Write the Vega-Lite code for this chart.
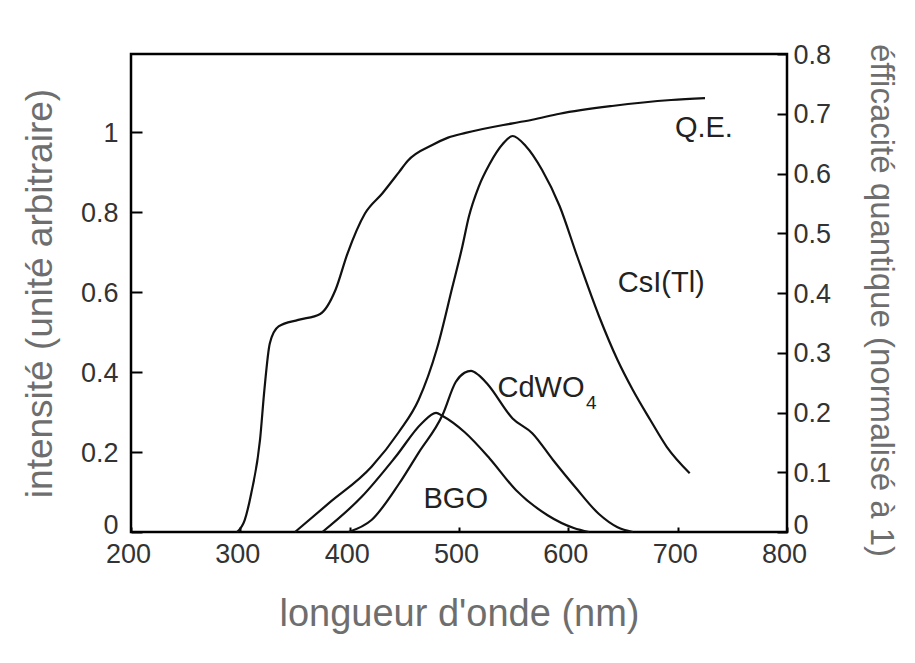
{
  "$schema": "https://vega.github.io/schema/vega-lite/v6.json",
  "width": 656,
  "height": 478,
  "autosize": {"type": "none"},
  "padding": {"left": 131, "top": 54, "right": 128, "bottom": 131},
  "background": "white",
  "config": {
    "font": "Liberation Sans",
    "view": {"stroke": "black", "strokeWidth": 2.5},
    "axis": {"grid": false, "domain": false, "tickColor": "black", "tickWidth": 2, "labelColor": "#333333", "labelFont": "Liberation Sans", "titleFont": "Liberation Sans", "titleFontWeight": "normal", "titleColor": "#6e6e6e"}
  },
  "datasets": {
    "spectra": [
      {"series": "CsI(Tl)", "nm": 350, "val": 0},
      {"series": "CsI(Tl)", "nm": 381, "val": 0.072},
      {"series": "CsI(Tl)", "nm": 420, "val": 0.163},
      {"series": "CsI(Tl)", "nm": 445, "val": 0.25},
      {"series": "CsI(Tl)", "nm": 463, "val": 0.33},
      {"series": "CsI(Tl)", "nm": 480, "val": 0.46},
      {"series": "CsI(Tl)", "nm": 494, "val": 0.613},
      {"series": "CsI(Tl)", "nm": 503, "val": 0.713},
      {"series": "CsI(Tl)", "nm": 509, "val": 0.788},
      {"series": "CsI(Tl)", "nm": 518, "val": 0.863},
      {"series": "CsI(Tl)", "nm": 528, "val": 0.92},
      {"series": "CsI(Tl)", "nm": 540, "val": 0.97},
      {"series": "CsI(Tl)", "nm": 549, "val": 0.99},
      {"series": "CsI(Tl)", "nm": 561, "val": 0.965},
      {"series": "CsI(Tl)", "nm": 576, "val": 0.905},
      {"series": "CsI(Tl)", "nm": 592, "val": 0.815},
      {"series": "CsI(Tl)", "nm": 608, "val": 0.69},
      {"series": "CsI(Tl)", "nm": 628, "val": 0.54},
      {"series": "CsI(Tl)", "nm": 645, "val": 0.43},
      {"series": "CsI(Tl)", "nm": 659, "val": 0.355},
      {"series": "CsI(Tl)", "nm": 675, "val": 0.28},
      {"series": "CsI(Tl)", "nm": 690, "val": 0.213},
      {"series": "CsI(Tl)", "nm": 711, "val": 0.147},
      {"series": "BGO", "nm": 375, "val": 0},
      {"series": "BGO", "nm": 411, "val": 0.088},
      {"series": "BGO", "nm": 442, "val": 0.188},
      {"series": "BGO", "nm": 466, "val": 0.272},
      {"series": "BGO", "nm": 479, "val": 0.298},
      {"series": "BGO", "nm": 485, "val": 0.29},
      {"series": "BGO", "nm": 505, "val": 0.25},
      {"series": "BGO", "nm": 528, "val": 0.184},
      {"series": "BGO", "nm": 552, "val": 0.105},
      {"series": "BGO", "nm": 581, "val": 0.042},
      {"series": "BGO", "nm": 605, "val": 0.01},
      {"series": "BGO", "nm": 619, "val": 0},
      {"series": "CdWO4", "nm": 399, "val": 0},
      {"series": "CdWO4", "nm": 420, "val": 0.03},
      {"series": "CdWO4", "nm": 445, "val": 0.12},
      {"series": "CdWO4", "nm": 463, "val": 0.198},
      {"series": "CdWO4", "nm": 485, "val": 0.293},
      {"series": "CdWO4", "nm": 497, "val": 0.375},
      {"series": "CdWO4", "nm": 505, "val": 0.398},
      {"series": "CdWO4", "nm": 511, "val": 0.403},
      {"series": "CdWO4", "nm": 518, "val": 0.392},
      {"series": "CdWO4", "nm": 526, "val": 0.37},
      {"series": "CdWO4", "nm": 549, "val": 0.284},
      {"series": "CdWO4", "nm": 567, "val": 0.247},
      {"series": "CdWO4", "nm": 586, "val": 0.18},
      {"series": "CdWO4", "nm": 607, "val": 0.11},
      {"series": "CdWO4", "nm": 628, "val": 0.045},
      {"series": "CdWO4", "nm": 645, "val": 0.012},
      {"series": "CdWO4", "nm": 659, "val": 0}
    ],
    "qe": [
      {"nm": 297, "qe": 0},
      {"nm": 304, "qe": 0.02},
      {"nm": 310, "qe": 0.065},
      {"nm": 318, "qe": 0.154},
      {"nm": 322, "qe": 0.238},
      {"nm": 327, "qe": 0.316},
      {"nm": 335, "qe": 0.344},
      {"nm": 353, "qe": 0.355},
      {"nm": 373, "qe": 0.365},
      {"nm": 387, "qe": 0.405},
      {"nm": 398, "qe": 0.466},
      {"nm": 414, "qe": 0.533},
      {"nm": 430, "qe": 0.567},
      {"nm": 445, "qe": 0.602},
      {"nm": 453, "qe": 0.621},
      {"nm": 476, "qe": 0.648},
      {"nm": 490, "qe": 0.66},
      {"nm": 506, "qe": 0.668},
      {"nm": 549, "qe": 0.684},
      {"nm": 567, "qe": 0.69},
      {"nm": 592, "qe": 0.7},
      {"nm": 640, "qe": 0.713},
      {"nm": 694, "qe": 0.723},
      {"nm": 725, "qe": 0.726}
    ],
    "labels": [
      {"nm": 724, "val": 1.01, "text": "Q.E."},
      {"nm": 685, "val": 0.6225, "text": "CsI(Tl)"},
      {"nm": 575, "val": 0.36, "text": "CdWO"},
      {"nm": 497, "val": 0.0825, "text": "BGO"}
    ],
    "subs": [
      {"nm": 621, "val": 0.322, "text": "4"}
    ]
  },
  "layer": [
    {
      "layer": [
        {
          "data": {"name": "spectra"},
          "mark": {"type": "line", "interpolate": "monotone", "color": "#111111", "strokeWidth": 2.2},
          "encoding": {
            "x": {"field": "nm", "type": "quantitative", "scale": {"domain": [200, 800], "nice": false},
              "axis": {"orient": "bottom", "values": [200, 300, 400, 500, 600, 700, 800], "tickSize": -5, "labelFontSize": 27, "labelPadding": 14, "labelOffset": -3, "labelFlush": false,
                "title": "longueur d'onde (nm)", "titleFontSize": 38, "titleY": 93, "titleBaseline": "alphabetic"}},
            "y": {"field": "val", "type": "quantitative", "scale": {"domain": [0, 1.195], "nice": false},
              "axis": {"orient": "left", "values": [0, 0.2, 0.4, 0.6, 0.8, 1], "format": "~g", "tickSize": -11, "labelFontSize": 27, "labelPadding": 24, "labelFlush": false,
                "labelOffset": {"condition": {"test": "datum.value == 0", "value": -7}, "value": 1},
                "title": "intensité (unité arbitraire)", "titleFontSize": 37, "titleX": -80, "titleBaseline": "alphabetic"}},
            "detail": {"field": "series"}
          }
        },
        {
          "data": {"name": "labels"},
          "mark": {"type": "text", "fontSize": 29, "color": "#222222", "align": "center", "baseline": "middle"},
          "encoding": {
            "x": {"field": "nm", "type": "quantitative"},
            "y": {"field": "val", "type": "quantitative"},
            "text": {"field": "text"}
          }
        },
        {
          "data": {"name": "subs"},
          "mark": {"type": "text", "fontSize": 19, "color": "#222222", "align": "center", "baseline": "middle"},
          "encoding": {
            "x": {"field": "nm", "type": "quantitative"},
            "y": {"field": "val", "type": "quantitative"},
            "text": {"field": "text"}
          }
        }
      ]
    },
    {
      "data": {"name": "qe"},
      "mark": {"type": "line", "interpolate": "monotone", "color": "#111111", "strokeWidth": 2.2},
      "encoding": {
        "x": {"field": "nm", "type": "quantitative"},
        "y": {"field": "qe", "type": "quantitative", "scale": {"domain": [0, 0.8], "nice": false},
          "axis": {"orient": "right", "values": [0, 0.1, 0.2, 0.3, 0.4, 0.5, 0.6, 0.7, 0.8], "format": "~g", "tickSize": -10, "labelFontSize": 27, "labelPadding": 16, "labelFlush": false,
            "labelOffset": {"condition": {"test": "datum.value == 0", "value": -7}, "value": 1},
            "title": "éfficacité quantique (normalisé à 1)", "titleFontSize": 33, "titleAngle": 90, "titleX": 83, "titleY": 246, "titleBaseline": "alphabetic"}}
      }
    }
  ],
  "resolve": {"scale": {"y": "independent"}, "axis": {"y": "independent"}}
}
